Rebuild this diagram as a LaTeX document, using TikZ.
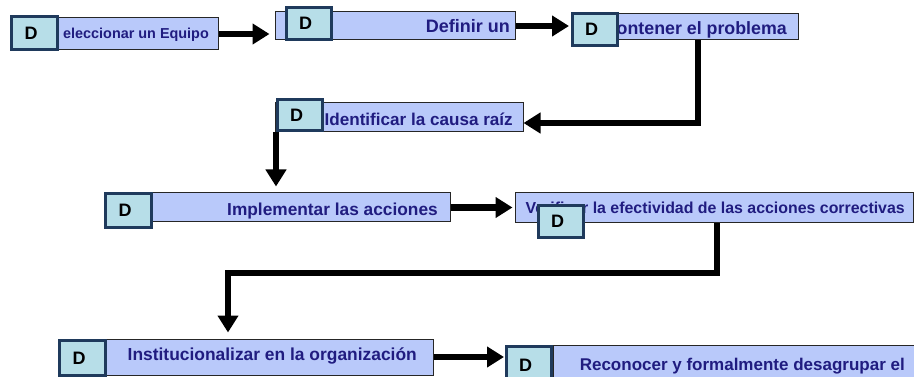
\documentclass[tikz,border=0pt]{standalone}
\usepackage{fontspec}
\setmainfont{Liberation Sans}
\usetikzlibrary{arrows.meta,calc}
\definecolor{barfill}{RGB}{185,201,250}
\definecolor{dfill}{RGB}{183,222,232}
\definecolor{dborder}{RGB}{31,58,92}
\definecolor{navy}{RGB}{32,28,128}
\newcommand{\dletter}{\raisebox{-2pt}{D}\hspace*{7pt}}
\tikzset{
  bar/.style={draw=black!85, line width=1pt, fill=barfill, rectangle, inner sep=0pt},
  dbox/.style={draw=dborder, line width=3pt, fill=dfill, rectangle, inner sep=0pt,
    font=\fontsize{18}{20}\selectfont\bfseries, text=black},
  txt/.style={inner sep=0pt, text=navy, anchor=base east},
  conn/.style={line width=6.5pt, black, -{Triangle[length=17pt,width=20pt]}},
}
\begin{document}
\begin{tikzpicture}[x=1pt,y=-1pt]
\useasboundingbox (0,0) rectangle (914,377);
\clip (0,0) rectangle (914,377);
% bars
\node[bar, minimum width=163pt, minimum height=32pt] (b1) at (136.5,34) {};
\node[bar, minimum width=240pt, minimum height=28pt] (b2) at (395,26) {};
\node[bar, minimum width=218pt, minimum height=26pt] (b3) at (689,27) {};
\node[bar, minimum width=248pt, minimum height=29pt] (b4) at (399,117.5) {};
\node[bar, minimum width=300pt, minimum height=29pt] (b5) at (300,207.5) {};
\node[bar, minimum width=398pt, minimum height=30pt] (b6) at (714,208) {};
\node[bar, minimum width=328pt, minimum height=36pt] (b7) at (269,357) {};
\node[bar, minimum width=377pt, minimum height=40pt] (b8) at (741.5,365) {};
% texts
\begin{scope}
\clip (63.3,18) rectangle (218,50);
\node[txt, font=\fontsize{14.4}{16}\selectfont\bfseries] (t1) at (209,38.5) {Seleccionar un Equipo};
\end{scope}
\node[txt, font=\fontsize{18}{20}\selectfont\bfseries] (t2) at (510,33) {Definir un};
\node[txt, font=\fontsize{17.8}{20}\selectfont\bfseries] (t3) at (787,34.5) {Contener el problema};
\node[txt, font=\fontsize{17.1}{20}\selectfont\bfseries] (t4) at (513,126) {Identificar la causa raíz};
\node[txt, font=\fontsize{17.3}{20}\selectfont\bfseries] (t5) at (438,215) {Implementar las acciones};
\node[txt, font=\fontsize{15.9}{18}\selectfont\bfseries] (t6) at (905,214) {Verificar la efectividad de las acciones correctivas};
\node[txt, font=\fontsize{17.4}{20}\selectfont\bfseries] (t7) at (417,360) {Institucionalizar en la organización};
\node[txt, font=\fontsize{17}{20}\selectfont\bfseries] (t8) at (905,370) {Reconocer y formalmente desagrupar el};
% connectors
\coordinate (k3a) at (698,40);
\coordinate (k3b) at (698,123);
\coordinate (k4) at (276,132);
\coordinate (k6a) at (717,223);
\coordinate (k6b) at (717,273);
\coordinate (k6c) at (228,273);
\draw[conn, shorten >=5pt] (b1.east) -- (b1.east -| b2.west);
\draw[conn] (k3a) -- (k3b) -- (k3b -| b4.east);
\draw[conn, shorten >=6pt] (k4) -- (k4 |- b5.north);
\draw[conn, shorten >=2pt] (b5.east) -- (b5.east -| b6.west);
\draw[conn, shorten >=6pt] (k6a) -- (k6b) -- (k6c) -- (k6c |- b7.north);
% D squares
\node[dbox, minimum width=46pt, minimum height=33pt] (d1) at (34.5,33) {\dletter};
\node[dbox, minimum width=45pt, minimum height=32pt] (d2) at (309,23.5) {\dletter};
\node[dbox, minimum width=45pt, minimum height=32pt] (d3) at (595,29.5) {\dletter};
\node[dbox, minimum width=45pt, minimum height=31pt] (d4) at (300,115) {\dletter};
\node[dbox, minimum width=46pt, minimum height=34pt] (d5) at (128.5,210.5) {\dletter};
\node[dbox, minimum width=45pt, minimum height=32pt] (d6) at (561,221.5) {\dletter};
\node[dbox, minimum width=46pt, minimum height=35pt] (d7) at (82.5,358) {\dletter};
\node[dbox, minimum width=45pt, minimum height=37pt] (d8) at (529,365) {\dletter};
\draw[conn, shorten >=2pt] (b2.east) -- (b2.east -| d3.west);
\draw[conn, shorten >=1pt] (b7.east) -- (b7.east -| d8.west);
\end{tikzpicture}
\end{document}
